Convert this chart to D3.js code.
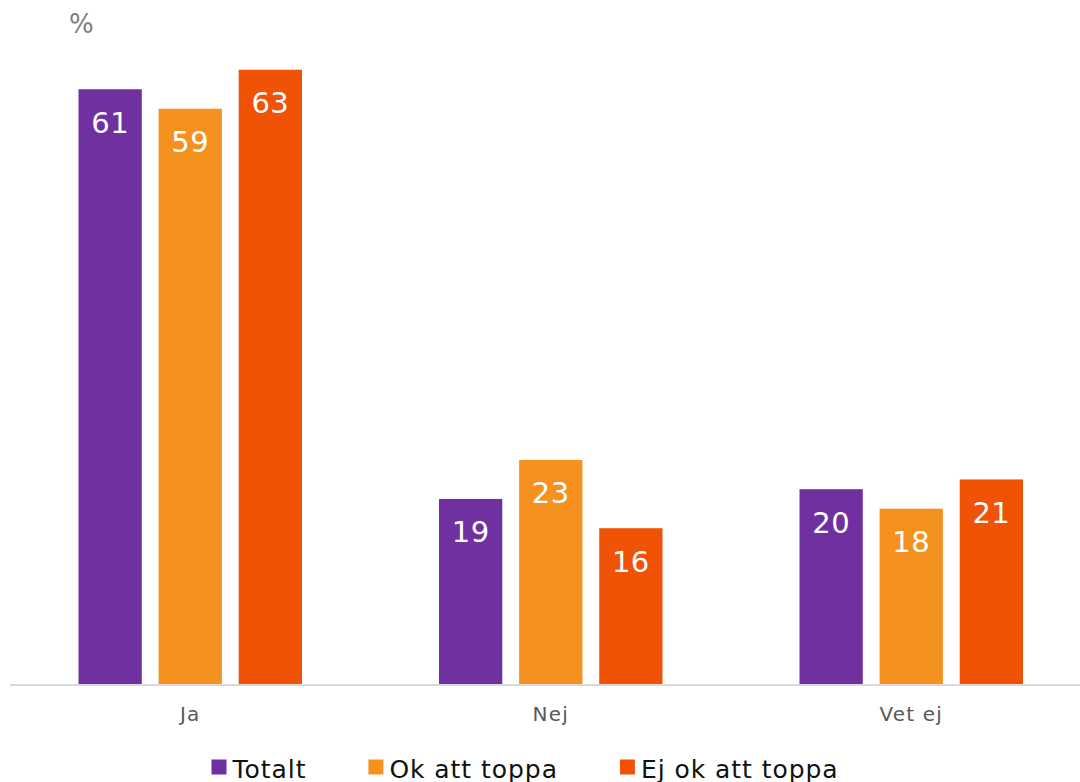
<!DOCTYPE html>
<html>
<head>
<meta charset="utf-8">
<script src="https://cdn.jsdelivr.net/npm/d3@7"></script>
<style>
  html, body { margin: 0; padding: 0; background: #ffffff; }
  svg { display: block; font-family: "DejaVu Sans", Verdana, sans-serif; }
</style>
</head>
<body>
<svg id="chart" width="1080" height="782"></svg>
<script>
const categories = ["Ja", "Nej", "Vet ej"];
const seriesNames = ["Totalt", "Ok att toppa", "Ej ok att toppa"];
const totalt = [61, 19, 20];
const okAttToppa = [59, 23, 18];
const ejOkAttToppa = [63, 16, 21];
const colors = ["#7030A0", "#F5921F", "#F05206"];
const unitLabel = "%";

const seriesValues = [totalt, okAttToppa, ejOkAttToppa];

const svg = d3.select("#chart");

const x0 = d3.scaleBand().domain(categories).range([10, 1091.5]).padding(0);
const x1 = d3.scaleBand().domain(seriesNames).range([68.5, 292]).paddingInner(0.21).paddingOuter(0);
const y = d3.scaleLinear().domain([0, 70]).range([684.3, 684.3 - 70 * 9.755]);

// unit label
svg.append("text")
  .attr("x", 69)
  .attr("y", 33)
  .attr("font-size", 26)
  .attr("fill", "#808080")
  .text(unitLabel);

// bars
const groups = svg.selectAll("g.cat")
  .data(categories)
  .join("g")
  .attr("class", "cat")
  .attr("transform", d => `translate(${x0(d)},0)`);

groups.each(function(cat, ci) {
  const g = d3.select(this);
  const rows = seriesNames.map((s, si) => ({ s, si, v: seriesValues[si][ci] }));
  g.selectAll("rect")
    .data(rows)
    .join("rect")
    .attr("x", d => x1(d.s))
    .attr("y", d => y(d.v))
    .attr("width", x1.bandwidth())
    .attr("height", d => y(0) - y(d.v))
    .attr("fill", d => colors[d.si]);
  g.selectAll("text.val")
    .data(rows)
    .join("text")
    .attr("class", "val")
    .attr("x", d => x1(d.s) + x1.bandwidth() / 2)
    .attr("y", d => y(d.v) + 43.5)
    .attr("text-anchor", "middle")
    .attr("font-size", 29)
    .attr("letter-spacing", 0.5)
    .attr("fill", "#ffffff")
    .text(d => d.v);
});

// baseline axis
svg.append("line")
  .attr("x1", 10).attr("x2", 1080)
  .attr("y1", 685).attr("y2", 685)
  .attr("stroke", "#d9d9d9")
  .attr("stroke-width", 2);

// category labels
svg.selectAll("text.cat")
  .data(categories)
  .join("text")
  .attr("class", "cat")
  .attr("x", d => x0(d) + x0.bandwidth() / 2)
  .attr("y", 721)
  .attr("text-anchor", "middle")
  .attr("font-size", 20)
  .attr("letter-spacing", 1.2)
  .attr("fill", "#595959")
  .text(d => d);

// legend
const legend = svg.append("g");
let lx = 211.5;
seriesNames.forEach((s, i) => {
  legend.append("rect")
    .attr("x", lx).attr("y", 759.5)
    .attr("width", 15).attr("height", 15)
    .attr("fill", colors[i]);
  const t = legend.append("text")
    .attr("x", lx + 21)
    .attr("y", 777.5)
    .attr("font-size", 25)
    .attr("letter-spacing", 0.95)
    .attr("fill", "#111111")
    .text(s);
  const w = t.node().getComputedTextLength();
  lx = lx + 21 + w + 62;
});
</script>
</body>
</html>
